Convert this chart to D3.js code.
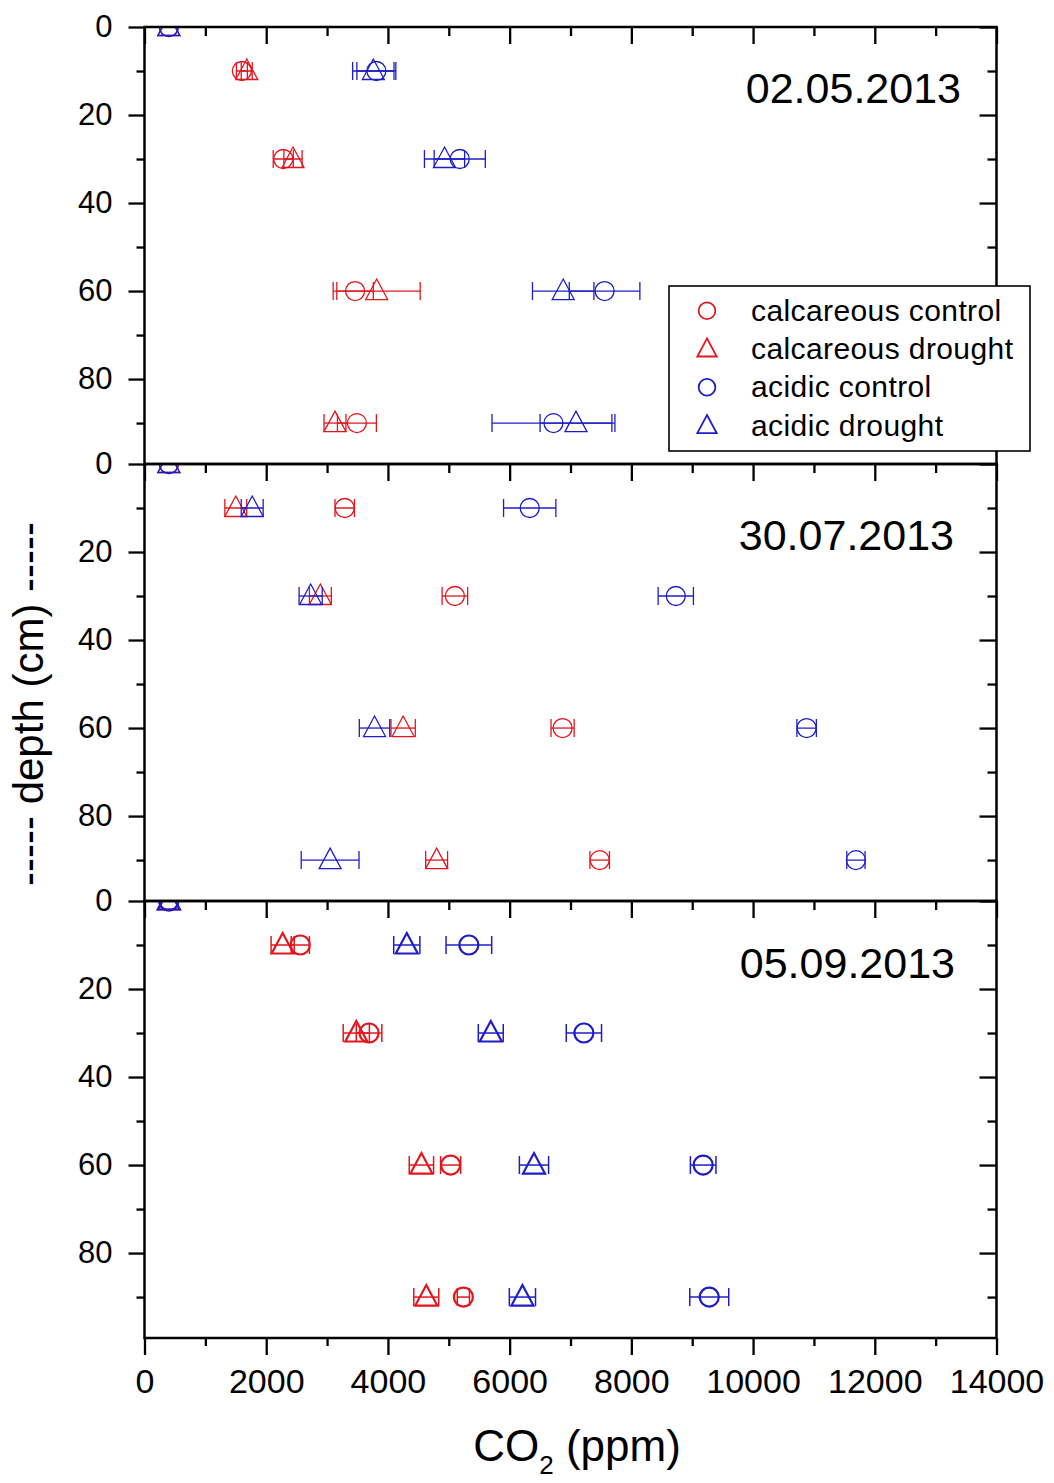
<!DOCTYPE html>
<html>
<head>
<meta charset="utf-8">
<script src="https://cdn.jsdelivr.net/npm/d3@7"></script>
<style>
  html, body { margin: 0; padding: 0; background: #fff; }
  svg { display: block; }
</style>
</head>
<body>
<svg id="chart" width="1054" height="1483"></svg>
<script>
// Sampling depths (cm) and sampling dates, one panel per date
const depths = [0, 10, 30, 60, 90];
const dates = ["02.05.2013", "30.07.2013", "05.09.2013"];
const seriesNames = ["calcareous control", "calcareous drought", "acidic control", "acidic drought"];

// Soil-air CO2 (ppm): rows = sampling date, columns = depth
const calcControl = [
  [400, 1600, 2280, 3460, 3490],
  [400, 3290, 5100, 6870, 7480],
  [400, 2560, 3690, 5030, 5240]
];
const calcControlErr = [
  [0, 90, 165, 300, 320],
  [0, 160, 210, 190, 160],
  [0, 150, 210, 165, 100]
];
const calcDrought = [
  [400, 1680, 2440, 3815, 3130],
  [400, 1500, 2890, 4250, 4800],
  [400, 2270, 3480, 4550, 4630]
];
const calcDroughtErr = [
  [0, 90, 150, 715, 180],
  [0, 180, 180, 200, 180],
  [0, 190, 215, 200, 205]
];
const acidControl = [
  [400, 3810, 5180, 7560, 6720],
  [400, 6330, 8730, 10880, 11690],
  [400, 5330, 7220, 9180, 9280]
];
const acidControlErr = [
  [0, 320, 420, 580, 1010],
  [0, 430, 290, 160, 150],
  [0, 375, 290, 210, 320]
];
const acidDrought = [
  [400, 3760, 4930, 6880, 7090],
  [400, 1770, 2730, 3780, 3050],
  [400, 4310, 5690, 6400, 6210]
];
const acidDroughtErr = [
  [0, 340, 330, 505, 590],
  [0, 180, 190, 250, 475],
  [0, 215, 205, 240, 215]
];

// Axis ticks
const xMajorTicks = [0, 2000, 4000, 6000, 8000, 10000, 12000, 14000];
const xMinorTicks = [1000, 3000, 5000, 7000, 9000, 11000, 13000];
const yMajorTicks = [0, 20, 40, 60, 80];
const yMinorTicks = [10, 30, 50, 70, 90];

// ---- layout ----
const W = 1054, H = 1483;
const plotLeft = 144.5, plotRight = 996.5;
const firstTop = 27, panelH = 437;
const depthMax = 99.3;
const FONT = "'Liberation Sans', Arial, Helvetica, sans-serif";
const RED = "#e3161e", BLUE = "#1e1ec8";
const datePos = [[961, 76], [954, 86], [955, 77]];

const series = [
  { name: seriesNames[0], vals: calcControl, err: calcControlErr, color: RED,  shape: "circle" },
  { name: seriesNames[1], vals: calcDrought, err: calcDroughtErr, color: RED,  shape: "triangle" },
  { name: seriesNames[2], vals: acidControl, err: acidControlErr, color: BLUE, shape: "circle" },
  { name: seriesNames[3], vals: acidDrought, err: acidDroughtErr, color: BLUE, shape: "triangle" }
];

// Open triangle, slightly taller than wide, anchored near its centroid
const openTriangle = {
  draw(ctx, size) {
    const s = Math.sqrt(size) / 20;           // size 400 -> unit scale
    ctx.moveTo(0, -12 * s);
    ctx.lineTo(11 * s, 8.5 * s);
    ctx.lineTo(-11 * s, 8.5 * s);
    ctx.closePath();
  }
};
const symbolPath = (shape, scale) => {
  if (shape === "circle") {
    const r = 9.5 * scale;
    return d3.symbol().type(d3.symbolCircle).size(Math.PI * r * r)();
  }
  return d3.symbol().type(openTriangle).size(400 * scale * scale)();
};

const svg = d3.select("#chart");
svg.append("rect").attr("width", W).attr("height", H).attr("fill", "#fff");

const x = d3.scaleLinear().domain([0, 14000]).range([plotLeft, plotRight]);
const defs = svg.append("defs");

dates.forEach((date, p) => {
  const top = firstTop + p * panelH;
  const bottom = top + panelH;
  const y = d3.scaleLinear().domain([0, depthMax]).range([top, bottom]);
  const g = svg.append("g").attr("class", "panel");
  const thick = p === 2;

  defs.append("clipPath").attr("id", "clip" + p)
    .append("rect").attr("x", plotLeft).attr("y", top)
    .attr("width", plotRight - plotLeft).attr("height", panelH);

  const data = g.append("g").attr("clip-path", `url(#clip${p})`);

  series.forEach(s => {
    const pts = depths.map((d, j) => ({ depth: d, v: s.vals[p][j], e: s.err[p][j] }));
    const sg = data.append("g").attr("stroke", s.color).attr("fill", "none");

    // horizontal error bars with end caps
    const eb = sg.selectAll(".eb").data(pts.filter(d => d.e > 0)).join("g")
      .attr("stroke-width", thick ? 1.5 : 1.3);
    eb.append("line")
      .attr("x1", d => x(d.v - d.e)).attr("x2", d => x(d.v + d.e))
      .attr("y1", d => y(d.depth)).attr("y2", d => y(d.depth));
    eb.append("line")
      .attr("x1", d => x(d.v - d.e)).attr("x2", d => x(d.v - d.e))
      .attr("y1", d => y(d.depth) - 9).attr("y2", d => y(d.depth) + 9);
    eb.append("line")
      .attr("x1", d => x(d.v + d.e)).attr("x2", d => x(d.v + d.e))
      .attr("y1", d => y(d.depth) - 9).attr("y2", d => y(d.depth) + 9);

    // open symbols
    sg.selectAll(".mk").data(pts).join("path")
      .attr("d", symbolPath(s.shape, 1))
      .attr("transform", d => `translate(${x(d.v)},${y(d.depth)})`)
      .attr("stroke-width", thick ? 2.2 : 1.3)
      .attr("stroke-linejoin", "miter");
  });

  // ---- axes ----
  const axisStyle = sel => {
    sel.select(".domain").remove();
    sel.selectAll(".tick line").attr("stroke", "#000").attr("stroke-width", 2.3);
    sel.selectAll(".tick text").attr("fill", "#000").attr("font-family", FONT);
  };

  // left: labelled, outward ticks
  const left = g.append("g").attr("transform", `translate(${plotLeft},0)`)
    .call(d3.axisLeft(y).tickValues(yMajorTicks.concat(yMinorTicks).sort(d3.ascending))
      .tickSize(16).tickPadding(16)
      .tickFormat(d => yMajorTicks.includes(d) ? d : ""));
  axisStyle(left);
  left.selectAll(".tick line").attr("x2", d => yMajorTicks.includes(d) ? -16 : -8);
  left.selectAll(".tick text").attr("font-size", 31);

  // right: inward ticks
  const right = g.append("g").attr("transform", `translate(${plotRight},0)`)
    .call(d3.axisRight(y).tickValues(yMajorTicks.concat(yMinorTicks)).tickSize(-17).tickFormat(""));
  axisStyle(right);
  right.selectAll(".tick line").attr("x2", d => yMajorTicks.includes(d) ? -17 : -9);

  // top: inward ticks
  const topAx = g.append("g").attr("transform", `translate(0,${top})`)
    .call(d3.axisTop(x).tickValues(xMajorTicks.concat(xMinorTicks)).tickSize(-17).tickFormat(""));
  axisStyle(topAx);
  topAx.selectAll(".tick line").attr("y2", d => xMajorTicks.includes(d) ? 17 : 9);

  // bottom panel carries the labelled CO2 axis
  if (p === dates.length - 1) {
    const bot = g.append("g").attr("transform", `translate(0,${bottom})`)
      .call(d3.axisBottom(x).tickValues(xMajorTicks.concat(xMinorTicks).sort(d3.ascending))
        .tickSize(17).tickPadding(14)
        .tickFormat(d => xMajorTicks.includes(d) ? d : ""));
    axisStyle(bot);
    bot.selectAll(".tick line").attr("y2", d => xMajorTicks.includes(d) ? 17 : 8);
    bot.selectAll(".tick text").attr("font-size", 34);
  }

  // frame
  g.append("rect")
    .attr("x", plotLeft).attr("y", top)
    .attr("width", plotRight - plotLeft).attr("height", panelH)
    .attr("fill", "none").attr("stroke", "#000").attr("stroke-width", 2.5);

  // date label
  g.append("text")
    .attr("x", datePos[p][0]).attr("y", top + datePos[p][1])
    .attr("text-anchor", "end")
    .attr("font-family", FONT).attr("font-size", 43).attr("fill", "#000")
    .text(date);
});

// ---- legend (top panel) ----
const lg = svg.append("g").attr("class", "legend");
lg.append("rect").attr("x", 669).attr("y", 286).attr("width", 361).attr("height", 165)
  .attr("fill", "#fff").attr("stroke", "#000").attr("stroke-width", 1.6);
const rows = lg.selectAll(".row").data(series).join("g")
  .attr("transform", (d, i) => `translate(0,${320.7 + i * 38.3})`);
rows.append("path")
  .attr("d", d => symbolPath(d.shape, 0.88))
  .attr("transform", "translate(707,-10)")
  .attr("fill", "none").attr("stroke", d => d.color).attr("stroke-width", 1.8);
rows.append("text")
  .attr("x", 751).attr("y", 0)
  .attr("font-family", FONT).attr("font-size", 30).attr("letter-spacing", 0.4).attr("fill", "#000")
  .text(d => d.name);

// ---- axis titles ----
const xt = svg.append("text")
  .attr("x", 577).attr("y", 1461).attr("text-anchor", "middle")
  .attr("font-family", FONT).attr("font-size", 44).attr("fill", "#000");
xt.append("tspan").text("CO");
xt.append("tspan").attr("font-size", 26).attr("dy", 13).text("2");
xt.append("tspan").attr("dy", -13).text(" (ppm)");

svg.append("text")
  .attr("transform", "translate(43,704) rotate(-90)")
  .attr("text-anchor", "middle")
  .attr("font-family", FONT).attr("font-size", 42).attr("fill", "#000")
  .text("----- depth (cm) -----");
</script>
</body>
</html>
